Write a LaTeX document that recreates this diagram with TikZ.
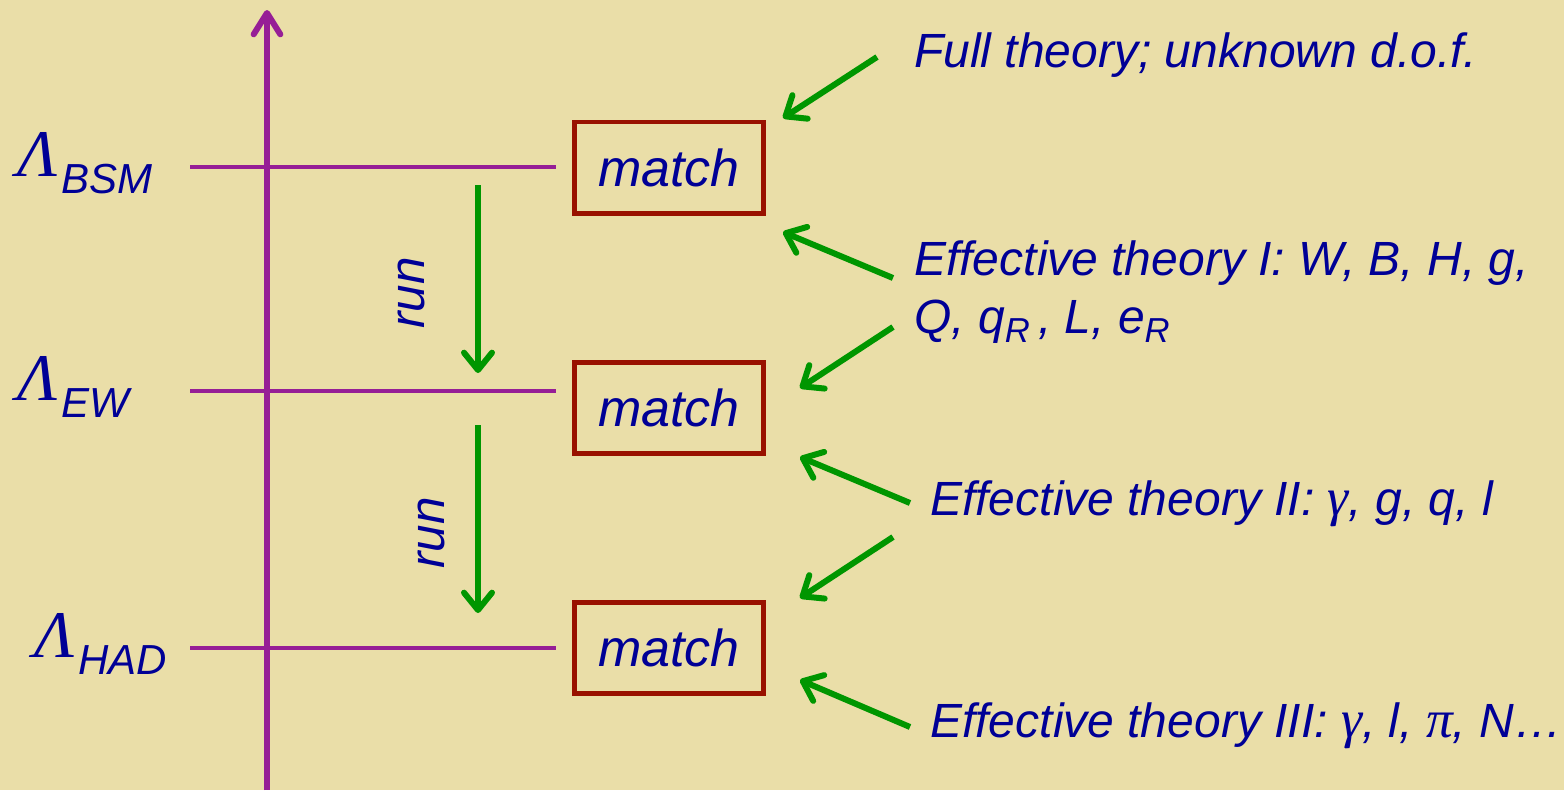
\documentclass[tikz,border=0pt]{standalone}
\usepackage{fontspec}
\setmainfont{Liberation Sans}
\newfontfamily\serifgr{Liberation Serif}
\usetikzlibrary{arrows.meta}
\definecolor{bg}{RGB}{234,222,168}
\definecolor{navy}{RGB}{0,0,150}
\definecolor{axpurple}{RGB}{150,30,150}
\definecolor{grn}{RGB}{0,150,0}
\definecolor{boxred}{RGB}{153,17,0}
\newcommand{\lamsub}[1]{{\serifgr\itshape\fontsize{50}{50}\selectfont Λ}\kern3pt{\fontsize{31.5}{32}\selectfont\raisebox{-12.75pt}{#1}}}
\newcommand{\gsym}[1]{{\serifgr\itshape\fontsize{40}{40}\selectfont #1}}
\newcommand{\subR}{\raisebox{-6.75pt}{\fontsize{26}{26}\selectfont R}}
\tikzset{
  axisline/.style={draw=axpurple, line width=4.5pt, -{Straight Barb[length=16pt,width=20pt,line cap=round,line join=round]}},
  level/.style={draw=axpurple, line width=3.5pt},
  matchbox/.style={draw=boxred, line width=3.5pt, minimum width=142pt, minimum height=68.5pt, inner sep=0pt,
     text=navy, font=\fontsize{39}{40}\selectfont\itshape},
  runarrow/.style={draw=grn, line width=4.5pt, -{Straight Barb[length=13pt,width=21pt,line cap=round,line join=round]}},
  lab/.style={text=navy, font=\fontsize{36}{40}\selectfont\itshape, inner sep=0pt, anchor=base west},
  lamlab/.style={text=navy, inner sep=0pt, anchor=base west, font=\itshape},
  runlab/.style={text=navy, font=\fontsize{37}{40}\selectfont\itshape, rotate=90, inner sep=0pt}
}
\begin{document}
\begin{tikzpicture}[x=0.75pt,y=-0.75pt]
\fill[bg] (0,0) rectangle (1564,790);
\useasboundingbox (0,0) rectangle (1564,790);

% axis
\coordinate (axb) at (267,790);
\coordinate (axt) at (267,10);
\draw[axisline] (axb) -- (axt);

% boxes
\node[matchbox] (m1) at (669,167.5) {match};
\node[matchbox] (m2) at (669,408) {match};
\node[matchbox] (m3) at (669,648) {match};

% level lines
\coordinate (l1a) at (190,167); \coordinate (l1b) at (556,167);
\coordinate (l2a) at (190,391); \coordinate (l2b) at (556,391);
\coordinate (l3a) at (190,648); \coordinate (l3b) at (556,648);
\draw[level] (l1a) -- (l1b);
\draw[level] (l2a) -- (l2b);
\draw[level] (l3a) -- (l3b);

% lambda labels
\node[lamlab] (lbsm) at (17,176) {\lamsub{BSM}};
\node[lamlab] (lew) at (17,400) {\lamsub{EW}};
\node[lamlab] (lhad) at (34,657) {\lamsub{HAD}};

% run arrows
\coordinate (r1a) at (478,185); \coordinate (r1b) at (478,373);
\coordinate (r2a) at (478,425); \coordinate (r2b) at (478,613);
\draw[runarrow] (r1a) -- (r1b);
\draw[runarrow] (r2a) -- (r2b);
\node[runlab] (run1) at (411,293) {run};
\node[runlab] (run2) at (431,533) {run};

% texts
\node[lab] (t0) at (914,67) {Full theory; unknown d.o.f.};
\node[lab] (t1) at (914,275) {Effective theory I: W, B, H, g,};
\node[lab] (t1b) at (914,333) {Q, q\subR\,, L, e\subR};
\node[lab] (t2) at (930,515) {Effective theory II: \gsym{γ}, g, q, l};
\node[lab] (t3) at (930,737) {Effective theory III: \gsym{γ}, l, \gsym{π}, N…};

% diagonal arrows
\coordinate (d1a) at (877,57);  \coordinate (d1b) at (783,118);
\coordinate (d2a) at (893,278); \coordinate (d2b) at (783,232);
\coordinate (d3a) at (893,327); \coordinate (d3b) at (800,388);
\coordinate (d4a) at (910,503); \coordinate (d4b) at (800,457);
\coordinate (d5a) at (893,537); \coordinate (d5b) at (800,598);
\coordinate (d6a) at (910,727); \coordinate (d6b) at (800,680);
\foreach \i in {1,...,6} {\draw[runarrow] (d\i a) -- (d\i b);}
\end{tikzpicture}
\end{document}
